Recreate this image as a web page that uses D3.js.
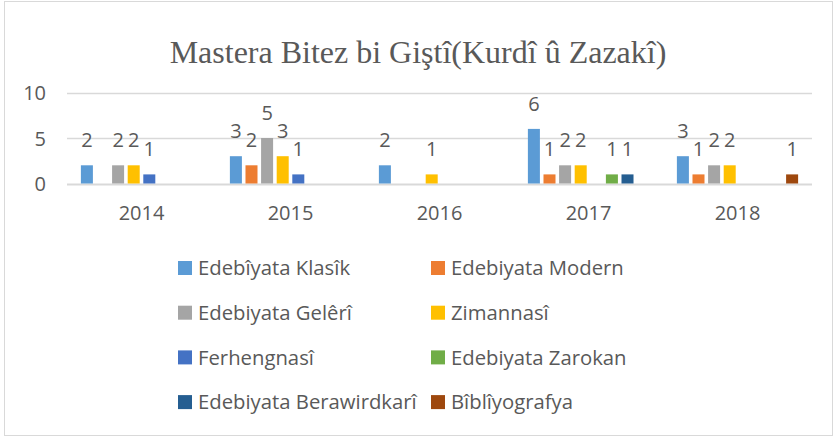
<!DOCTYPE html>
<html>
<head>
<meta charset="utf-8">
<script src="https://cdn.jsdelivr.net/npm/d3@7"></script>
<style>
html,body{margin:0;padding:0;background:#fff;}
svg{display:block;}
</style>
</head>
<body>
<svg id="chart" width="833" height="437"></svg>
<script>
const title = "Mastera Bitez bi Giştî(Kurdî û Zazakî)";
const categories = ["2014", "2015", "2016", "2017", "2018"];
const seriesNames = ["Edebîyata Klasîk", "Edebiyata Modern", "Edebiyata Gelêrî", "Zimannasî",
  "Ferhengnasî", "Edebiyata Zarokan", "Edebiyata Berawirdkarî", "Bîblîyografya"];
const klasik    = [2, 3, 2, 6, 3];
const modern    = [null, 2, null, 1, 1];
const geleri    = [2, 5, null, 2, 2];
const zimannasi = [2, 3, 1, 2, 2];
const ferheng   = [1, 1, null, null, null];
const zarokan   = [null, null, null, 1, null];
const berawird  = [null, null, null, 1, null];
const bibliyo   = [null, null, null, null, 1];
const yTicks = [0, 5, 10];
const colors = ["#5B9BD5", "#ED7D31", "#A5A5A5", "#FFC000", "#4472C4", "#70AD47", "#255E91", "#9E480E"];

const seriesValues = [klasik, modern, geleri, zimannasi, ferheng, zarokan, berawird, bibliyo];
const series = seriesNames.map((name, i) => ({name, color: colors[i], values: seriesValues[i]}));

const svg = d3.select("#chart");
const textColor = "#595959";
const font = "'Open Sans', 'Liberation Sans', sans-serif";

// chart border
svg.append("rect").attr("x", 4.5).attr("y", 1.5).attr("width", 828).attr("height", 434)
  .attr("fill", "#fff").attr("stroke", "#d9d9d9").attr("stroke-width", 1);

// title
svg.append("text").attr("x", 418).attr("y", 63).attr("text-anchor", "middle")
  .attr("font-family", "'Liberation Serif', 'Times New Roman', serif").attr("font-size", 32)
  .attr("fill", textColor).text(title);

const x0 = d3.scaleBand().domain(categories).range([67, 812]).paddingInner(0).paddingOuter(0);
const x1 = d3.scaleBand().domain(seriesNames).range([0, x0.bandwidth()]).paddingInner(0.23).paddingOuter(0.89);
const y = d3.scaleLinear().domain([0, 10]).range([183.5, 92.5]);

// gridlines
svg.append("g").selectAll("line").data(yTicks).join("line")
  .attr("x1", 67).attr("x2", 812)
  .attr("y1", d => Math.round(y(d)) + 0.5).attr("y2", d => Math.round(y(d)) + 0.5)
  .attr("stroke", "#d9d9d9").attr("stroke-width", d => d === 0 ? 2 : 1.5);

// y axis labels
const yAxis = d3.axisLeft(y).tickValues(yTicks).tickSize(0).tickPadding(0);
const yg = svg.append("g").attr("transform", "translate(46,0)").call(yAxis);
yg.select(".domain").remove();
yg.selectAll("text").attr("font-family", font).attr("font-size", 20).attr("fill", textColor).attr("dy", "0.35em");

// x axis labels
const xAxis = d3.axisBottom(x0).tickSize(0).tickPadding(0);
const xg = svg.append("g").attr("transform", "translate(0,205)").call(xAxis);
xg.select(".domain").remove();
xg.selectAll("text").attr("font-family", font).attr("font-size", 20).attr("fill", textColor).attr("dy", "0.75em");

// bars
const groups = svg.append("g").selectAll("g").data(categories).join("g")
  .attr("transform", d => `translate(${x0(d)},0)`);

groups.each(function(cat, ci) {
  const g = d3.select(this);
  const data = series.map(s => ({name: s.name, color: s.color, v: s.values[ci]})).filter(d => d.v != null);
  g.selectAll("rect").data(data).join("rect")
    .attr("x", d => x1(d.name)).attr("width", x1.bandwidth())
    .attr("y", d => y(d.v)).attr("height", d => y(0) - y(d.v))
    .attr("fill", d => d.color);
  g.selectAll("text").data(data).join("text")
    .attr("x", d => x1(d.name) + x1.bandwidth() / 2)
    .attr("y", d => y(d.v) - 18)
    .attr("text-anchor", "middle")
    .attr("font-family", font).attr("font-size", 20).attr("fill", textColor)
    .text(d => d.v);
});

// legend
const legend = svg.append("g").selectAll("g").data(series).join("g")
  .attr("transform", (d, i) => `translate(${i % 2 === 0 ? 178 : 431},${268 + Math.floor(i / 2) * 44.7})`);
legend.append("rect").attr("x", 0).attr("y", -7).attr("width", 14).attr("height", 14).attr("fill", d => d.color);
legend.append("text").attr("x", 20).attr("y", 0).attr("dy", "0.35em")
  .attr("font-family", font).attr("font-size", 20.3).attr("fill", textColor)
  .text(d => d.name);
</script>
</body>
</html>
